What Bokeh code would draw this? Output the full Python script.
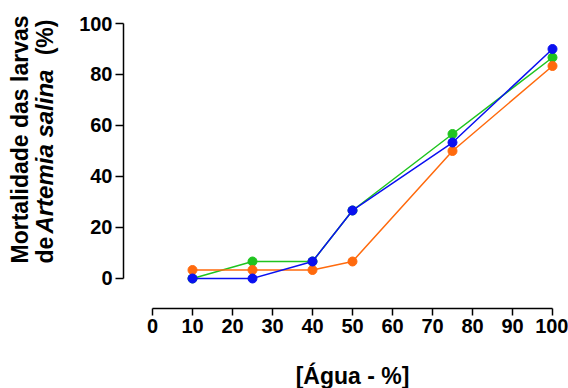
import math
from bokeh.plotting import figure
from bokeh.models import Range1d, FixedTicker, Label, LinearAxis
from bokeh.embed import file_html
from bokeh.resources import INLINE

# Data
agua = [10, 25, 40, 50, 75, 100]
serie_verde = [0, 6.67, 6.67, 26.67, 56.67, 86.67]
serie_laranja = [3.33, 3.33, 3.33, 6.67, 50, 83.33]
serie_azul = [0, 0, 6.67, 26.67, 53.33, 90]
x_ticks = [0, 10, 20, 30, 40, 50, 60, 70, 80, 90, 100]
y_ticks = [0, 20, 40, 60, 80, 100]

FONT = "Liberation Sans"

p = figure(width=568, height=388, output_backend="svg", toolbar_location=None,
           x_range=Range1d(-38, 104), y_range=Range1d(-43.14, 109.02),
           x_axis_location=None, y_axis_location=None,
           min_border_left=0, min_border_right=0, min_border_top=0,
           min_border_bottom=0, title=None)
p.grid.visible = False
p.outline_line_color = None
p.background_fill_color = "white"
p.border_fill_color = "white"

xaxis = LinearAxis(fixed_location=-11.76)
yaxis = LinearAxis(fixed_location=-7.25)
for ax in (xaxis, yaxis):
    ax.bounds = (0, 100)
    ax.axis_line_width = 1.5
    ax.axis_line_color = "black"
    ax.major_tick_line_width = 1.5
    ax.major_tick_line_color = "black"
    ax.major_tick_in = 0
    ax.minor_tick_line_color = None
    ax.major_label_text_font = FONT
    ax.major_label_text_font_style = "bold"
    ax.major_label_text_font_size = "20px"
    ax.major_label_text_color = "black"

xaxis.ticker = FixedTicker(ticks=x_ticks)
xaxis.major_tick_out = 7
xaxis.major_label_standoff = 4
yaxis.ticker = FixedTicker(ticks=y_ticks)
yaxis.major_tick_out = 8
yaxis.major_label_standoff = 3
p.add_layout(xaxis, "below")
p.add_layout(yaxis, "left")

series = [(serie_verde, "#1fc41f"), (serie_laranja, "#ff6a0d"), (serie_azul, "#0a10f0")]
for ys, col in series:
    p.line(agua, ys, line_color=col, line_width=1.5)
    p.scatter(agua, ys, size=9, fill_color=col, line_color=col)

def lab(x, y, text, style="bold", angle=math.pi / 2, align="left", size="23px"):
    p.add_layout(Label(x=x, y=y, text=text, angle=angle, text_align=align,
                       text_baseline="alphabetic", text_font=FONT,
                       text_font_style=style, text_font_size=size,
                       text_color="black"))

lab(-33.25, 5.9, "Mortalidade das larvas")
lab(-27.0, 5.9, "de")
lab(-27.0, 17.6, "Artemia salina", style="bold italic", size="24px")
lab(-27.0, 87.5, "(%)")
lab(50, -38.4, "[Água - %]", angle=0, align="center")

open("out.html", "w").write(file_html(p, INLINE))
